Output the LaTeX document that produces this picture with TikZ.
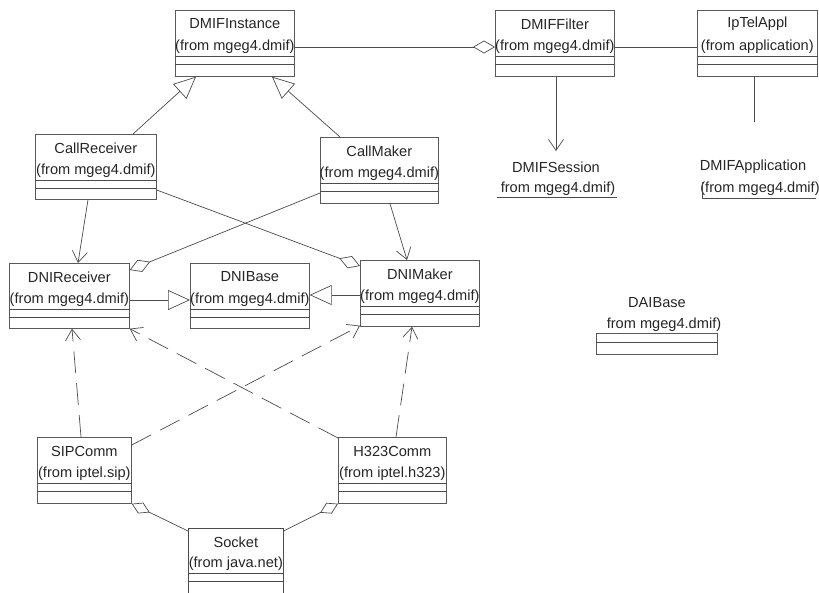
\documentclass[tikz,border=0pt]{standalone}
\usepackage{fontspec}
\setmainfont{Liberation Sans}
\usetikzlibrary{arrows.meta,calc}
\newcommand\umlbox[7]{%
  \node[box, minimum width=#4pt, minimum height=#5pt] (#1) at (#2,#3) {};
  \node[ttl] (#1-n) at ($(#1.north)+(0,14)$) {#6};
  \node[ttl] (#1-f) at ($(#1.north)+(0,37)$) {#7};
  \draw[ln] ($(#1.north west)+(0,46)$) -- ($(#1.north east)+(0,46)$);
  \draw[ln] ($(#1.north west)+(0,54)$) -- ($(#1.north east)+(0,54)$);
}
\begin{document}
\begin{tikzpicture}[x=1pt,y=-1pt,
  ln/.style={draw=black!70, line width=0.7pt},
  box/.style={draw=black!65, line width=0.7pt, rectangle, inner sep=0pt, anchor=north west},
  ttl/.style={font=\fontsize{14.6}{16}\selectfont, text=black!85, inner sep=0pt},
  gen/.style={ln, -{Triangle[open,length=22pt,width=20pt]}},
  nav/.style={ln, -{Straight Barb[length=11pt,width=15pt]}},
  agg/.style={ln, -{Diamond[open,length=22pt,width=13pt]}},
  dep/.style={nav, dash pattern=on 22pt off 10pt}]
\useasboundingbox (0,0) rectangle (819,592);
\fill[white] (0,0) rectangle (819,592);

% classes
\umlbox{inst}{175}{10}{119}{66}{DMIFInstance}{(from mgeg4.dmif)}
\umlbox{filt}{495}{10}{119}{66}{DMIFFilter}{(from mgeg4.dmif)}
\umlbox{ipt}{697}{10}{120}{66}{IpTelAppl}{(from application)}
\umlbox{crec}{35}{134}{121}{65}{CallReceiver}{(from mgeg4.dmif)}
\umlbox{cmak}{320}{137}{118}{66}{CallMaker}{(from mgeg4.dmif)}
\umlbox{drec}{9}{263}{120}{65}{DNIReceiver}{(from mgeg4.dmif)}
\umlbox{dbase}{190}{263}{119}{65}{DNIBase}{(from mgeg4.dmif)}
\umlbox{dmak}{360}{260}{119}{66}{DNIMaker}{(from mgeg4.dmif)}
\umlbox{sip}{37}{437}{94}{66}{SIPComm}{(from iptel.sip)}
\umlbox{h323}{338}{437}{108}{66}{H323Comm}{(from iptel.h323)}

% Socket (cut by the bottom edge)
\node[box, draw=none, minimum width=95pt, minimum height=64pt] (sock) at (188,528) {};
\draw[ln] (sock.south west) -- (sock.north west) -- (sock.north east) -- (sock.south east);
\node[ttl] (sock-n) at ($(sock.north)+(0,14)$) {Socket};
\node[ttl] (sock-f) at ($(sock.north)+(0,36)$) {(from java.net)};
\draw[ln] ($(sock.north west)+(0,45)$) -- ($(sock.north east)+(0,45)$);
\draw[ln] ($(sock.north west)+(0,53)$) -- ($(sock.north east)+(0,53)$);

% partial classes
\node[ttl] (sess-n) at (556,167) {DMIFSession};
\node[ttl] (sess-f) at (558,189) {from mgeg4.dmif)};
\coordinate (sessl) at (497,197);
\coordinate (sessr) at (617,197);
\draw[ln] (sessl) -- (sessr);
\coordinate (sesstip) at (556,151);

\node[ttl] (app-n) at (753,167) {DMIFApplication};
\node[ttl] (app-f) at (760,189) {(from mgeg4.dmif)};
\coordinate (appa) at (702,182);
\coordinate (appb) at (702,198);
\coordinate (appc) at (816,198);
\draw[ln] (appa) -- (appb) -- (appc);
\coordinate (iptend) at (754,122);

\node[ttl] (dai-n) at (657,303) {DAIBase};
\node[ttl] (dai-f) at (664,325) {from mgeg4.dmif)};
\node[box, minimum width=121pt, minimum height=21pt] (dai) at (596,333) {};
\draw[ln] ($(dai.north west)+(0,9)$) -- ($(dai.north east)+(0,9)$);

% connectors
\draw[agg] ($(inst.north east)+(0,37)$) -- ($(filt.north west)+(0,37)$);
\draw[ln] ($(filt.north east)+(0,37)$) -- ($(ipt.north west)+(0,37)$);
\draw[nav] ($(filt.south west)+(61,0)$) -- (sesstip);
\draw[ln] ($(ipt.south west)+(57,0)$) -- (iptend);

\draw[gen] ($(crec.north west)+(98,0)$) -- ($(inst.south west)+(21,0)$);
\draw[gen] ($(cmak.north west)+(20,0)$) -- ($(inst.south west)+(97,0)$);

\draw[nav] ($(crec.south west)+(53,0)$) -- ($(drec.north west)+(69,0)$);
\draw[nav] ($(cmak.south west)+(70,0)$) -- ($(dmak.north west)+(47,0)$);
\draw[agg] ($(crec.north east)+(0,56)$) -- ($(dmak.north west)+(0,6)$);
\draw[agg] ($(cmak.north west)+(0,56)$) -- ($(drec.north east)+(0,7)$);

\draw[gen] ($(drec.north east)+(0,37)$) -- ($(dbase.north west)+(0,37)$);
\draw[gen] ($(dmak.north west)+(0,35)$) -- ($(dbase.north east)+(0,32)$);

\draw[dep] ($(sip.north west)+(44,0)$) -- ($(drec.south west)+(63,0)$);
\draw[dep] ($(sip.north east)+(0,8)$) -- ($(dmak.south west)+(0,-1)$);
\draw[dep] ($(h323.north west)+(0,1)$) -- (drec.south east);
\draw[dep] ($(h323.north west)+(58,0)$) -- ($(dmak.south west)+(52,0)$);

\draw[ln, -{Diamond[open,length=20pt,width=12pt]}] ($(sock.north west)+(0,3)$) -- (sip.south east);
\draw[ln, -{Diamond[open,length=20pt,width=12pt]}] ($(sock.north east)+(0,3)$) -- (h323.south west);
\end{tikzpicture}
\end{document}
